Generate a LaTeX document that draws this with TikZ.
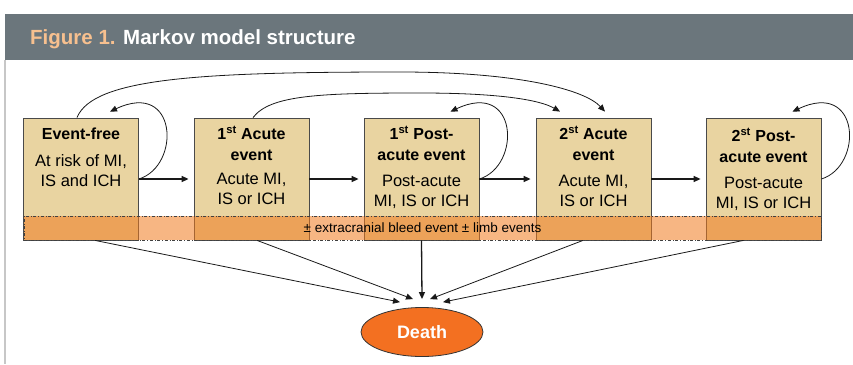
\documentclass[tikz,border=0pt]{standalone}
\usepackage{fontspec}
\setmainfont{Liberation Sans}
\usetikzlibrary{arrows.meta,shapes.geometric}
\definecolor{barGray}{HTML}{6B767C}
\definecolor{figOrange}{HTML}{F7C08F}
\definecolor{boxTan}{HTML}{E9D4A1}
\definecolor{bandOrange}{HTML}{F07A1E}
\definecolor{deathOrange}{HTML}{F37021}
\definecolor{edgeGray}{HTML}{4A4A4A}
\tikzset{
  stbox/.style={draw=edgeGray,fill=boxTan,line width=0.8pt,minimum width=115pt,minimum height=122pt,inner sep=0pt},
  sttitle/.style={anchor=north,align=center,inner sep=0pt,font=\fontsize{16}{20.5}\selectfont\bfseries},
  stbody/.style={anchor=north,align=center,inner sep=0pt,font=\fontsize{16.5}{20}\selectfont},
  band/.style={draw=black!75,dash dot,fill=bandOrange,fill opacity=0.55,text opacity=1,minimum width=797pt,minimum height=24pt,inner sep=0pt,font=\fontsize{13.5}{15}\selectfont},
  arr/.style={-{Triangle[length=7pt,width=6pt]},line width=0.8pt,draw=black!90},
  fwd/.style={arr,line width=1.3pt,shorten >=5pt}
}
\begin{document}
\begin{tikzpicture}[x=1pt,y=-1pt]
  \useasboundingbox (0,0) rectangle (853,364);
  % header
  \fill[barGray] (5,14) rectangle (853,60);
  \node[anchor=base west,inner sep=0pt,text=white,font=\fontsize{20.5}{24}\selectfont\bfseries] (figtitle) at (30,44) {\textcolor{figOrange}{Figure 1.} Markov model structure};
  \draw[black!22,line width=1.2pt] (5,60) -- (5,364);

  % states
  \node[stbox] (ef) at (81,179) {};
  \node[stbox] (ae1) at (251.5,179) {};
  \node[stbox] (pa1) at (421.5,179) {};
  \node[stbox] (ae2) at (593.5,179) {};
  \node[stbox] (pa2) at (763.5,179) {};

  \node[sttitle] (efT) at ([yshift=-10pt]ef.north) {Event-free};
  \node[stbody] (efB) at ([yshift=-37pt]ef.north) {At risk of MI,\\IS and ICH};
  \node[sttitle] (ae1T) at ([yshift=-8.5pt]ae1.north) {1\textsuperscript{st} Acute\\event};
  \node[stbody] (ae1B) at ([yshift=-55pt]ae1.north) {Acute MI,\\IS or ICH};
  \node[sttitle] (pa1T) at ([yshift=-8.5pt]pa1.north) {1\textsuperscript{st} Post-\\acute event};
  \node[stbody] (pa1B) at ([yshift=-57pt]pa1.north) {Post-acute\\MI, IS or ICH};
  \node[sttitle] (ae2T) at ([yshift=-8.5pt]ae2.north) {2\textsuperscript{st} Acute\\event};
  \node[stbody] (ae2B) at ([yshift=-57pt]ae2.north) {Acute MI,\\IS or ICH};
  \node[sttitle] (pa2T) at ([yshift=-10.5pt]pa2.north) {2\textsuperscript{st} Post-\\acute event};
  \node[stbody] (pa2B) at ([yshift=-59pt]pa2.north) {Post-acute\\MI, IS or ICH};

  \node[band] (bleed) at (422.5,228) {± extracranial bleed event ± limb events};

  \node[ellipse,draw=black!80,line width=0.8pt,fill=deathOrange,minimum width=122pt,minimum height=49pt,text=white,font=\fontsize{18}{20}\selectfont\bfseries] (death) at (422,332) {Death};

  % forward transitions
  \draw[fwd] (ef.east) -- (ae1.west);
  \draw[fwd] (ae1.east) -- (pa1.west);
  \draw[fwd] (pa1.east) -- (ae2.west);
  \draw[fwd] (ae2.east) -- (pa2.west);

  % staying in a state
  \draw[arr] (ef.east) .. controls +(42,-13) and +(68,-32) .. ([xshift=29pt,yshift=6pt]ef.north);
  \draw[arr] (pa1.east) .. controls +(42,-13) and +(68,-32) .. ([xshift=29pt,yshift=6pt]pa1.north);
  \draw[arr] (pa2.east) .. controls +(42,-13) and +(68,-32) .. ([xshift=29pt,yshift=6pt]pa2.north);

  % second event
  \draw[arr] ([xshift=-4pt]ef.north) .. controls (93,78) and (200,72) .. (400,72) .. controls (520,72) and (585,90) .. ([xshift=11.5pt,yshift=6pt]ae2.north);
  \draw[arr] ([xshift=1.5pt]ae1.north) .. controls (270,95) and (320,93) .. (420,93) .. controls (500,93) and (540,100) .. ([xshift=-33.5pt,yshift=6pt]ae2.north);

  % death
  \draw[arr] ([xshift=14pt]ef.south) -- ([xshift=-22pt,yshift=5pt]death.north);
  \draw[arr] ([xshift=5.5pt]ae1.south) -- ([xshift=-9pt,yshift=8pt]death.north);
  \draw[arr,line width=1.3pt] (pa1.south) -- ([yshift=8pt]death.north);
  \draw[arr] ([xshift=-10.5pt]ae2.south) -- ([xshift=8pt,yshift=8pt]death.north);
  \draw[arr] ([xshift=-20pt]pa2.south) -- ([xshift=21pt,yshift=5pt]death.north);
\end{tikzpicture}
\end{document}
